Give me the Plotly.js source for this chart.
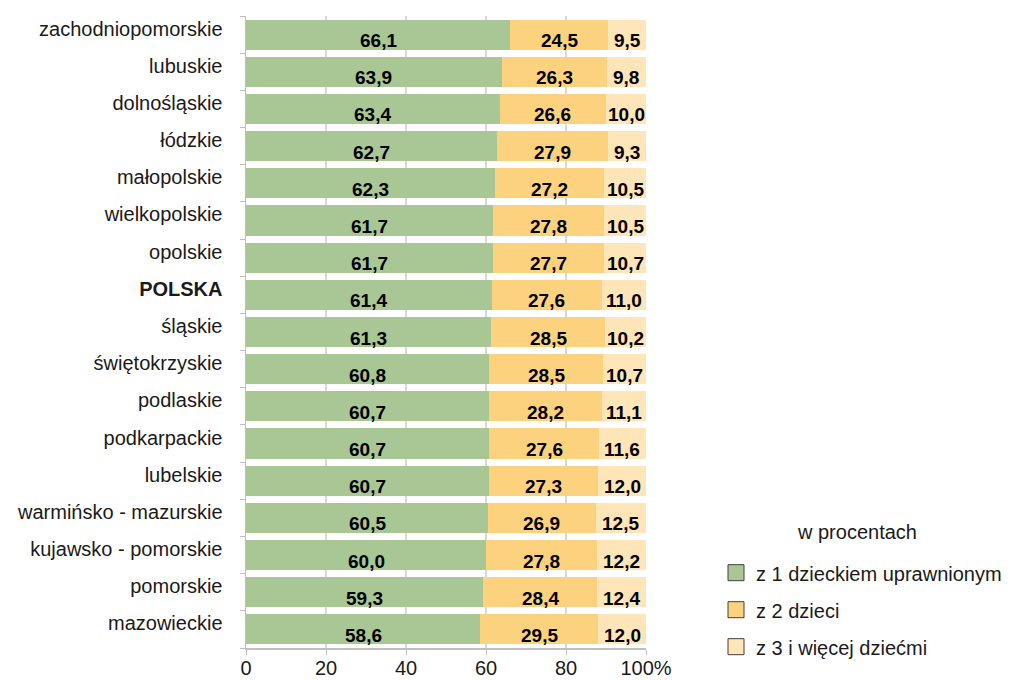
<!DOCTYPE html>
<html><head><meta charset="utf-8">
<script src="https://cdn.plot.ly/plotly-3.0.1.min.js"></script>
<style>html,body{margin:0;padding:0;background:#fff}#chart{width:1019px;height:680px}</style>
</head><body><div id="chart"></div>
<script>
const categories = ["zachodniopomorskie","lubuskie","dolnośląskie","łódzkie","małopolskie","wielkopolskie","opolskie","POLSKA","śląskie","świętokrzyskie","podlaskie","podkarpackie","lubelskie","warmińsko - mazurskie","kujawsko - pomorskie","pomorskie","mazowieckie"];
const oneChild = [66.1,63.9,63.4,62.7,62.3,61.7,61.7,61.4,61.3,60.8,60.7,60.7,60.7,60.5,60.0,59.3,58.6];
const twoChildren = [24.5,26.3,26.6,27.9,27.2,27.8,27.7,27.6,28.5,28.5,28.2,27.6,27.3,26.9,27.8,28.4,29.5];
const threePlus = [9.5,9.8,10.0,9.3,10.5,10.5,10.7,11.0,10.2,10.7,11.1,11.6,12.0,12.5,12.2,12.4,12.0];
const seriesNames = ["z 1 dzieckiem uprawnionym","z 2 dzieci","z 3 i więcej dziećmi"];
const xTickVals = [0,20,40,60,80,100];
const xTickText = ["0","20","40","60","80","100%"];
const legendTitle = "w procentach";

const colors = ["#A9C795","#FCD27E","#FFE5B8"];
const series = [oneChild, twoChildren, threePlus];
const fmt = v => v.toFixed(1).replace('.', ',');
const tickText = categories.map(c => c === "POLSKA" ? "<b>" + c + "</b>" : c);
const FONT = 'Liberation Sans, Arial, sans-serif';

const traces = [];
series.forEach((vals, i) => {
  traces.push({type:'bar', orientation:'h', y:categories, x:vals, name:seriesNames[i],
    marker:{color:colors[i], line:{width:0}}, showlegend:false, hoverinfo:'x+y'});
});
series.forEach((vals, i) => {
  traces.push({type:'scatter', mode:'markers', x:[null], y:[null], name:seriesNames[i],
    legendgroup:'g'+i, marker:{symbol:'square', size:16, color:colors[i], line:{color:'#404040', width:1}}, showlegend:true});
});

const annotations = [];
categories.forEach((c, k) => {
  let base = 0;
  series.forEach((vals, i) => {
    annotations.push({x: base + vals[k]/2, y: c, xref:'x', yref:'y', text: '<b>'+fmt(vals[k])+'</b>',
      showarrow:false, yshift:-6, font:{family:FONT, size:19, color:'#000'}});
    base += vals[k];
  });
});
annotations.push({x:1.5275, y:0.183, xref:'paper', yref:'paper', xanchor:'center', yanchor:'middle', showarrow:false,
  text:legendTitle, font:{family:FONT, size:20, color:'#1a1a1a'}});

const layout = {
  width:1019, height:680,
  margin:{l:246, r:373, t:16, b:32},
  paper_bgcolor:'#fff', plot_bgcolor:'#fff',
  barmode:'stack', bargap:0.19,
  font:{family:FONT, size:20, color:'#1a1a1a'},
  xaxis:{range:[0,100], tickvals:xTickVals, ticktext:xTickText, showgrid:true, gridcolor:'#D9D9D9', gridwidth:1.5,
    zeroline:false, showline:true, linecolor:'#BFBFBF', linewidth:1.5, ticks:'outside', ticklen:5, tickcolor:'#BFBFBF',
    ticklabelstandoff:-4, tickfont:{size:20}, fixedrange:true},
  yaxis:{type:'category', autorange:'reversed', tickvals:categories, ticktext:tickText, showgrid:false, zeroline:false,
    showline:true, linecolor:'#BFBFBF', linewidth:1.5, ticks:'outside', tickson:'boundaries', ticklen:5, tickcolor:'#BFBFBF',
    ticklabelshift:6, ticklabelstandoff:18, tickfont:{size:20}},
  annotations: annotations,
  legend:{x:1.175, xanchor:'left', y:0.15, yanchor:'top', bgcolor:'rgba(0,0,0,0)', font:{size:20},
    tracegroupgap:8, itemwidth:30},
  showlegend:true
};
Plotly.newPlot('chart', traces, layout, {displayModeBar:false, staticPlot:true});
</script></body></html>
